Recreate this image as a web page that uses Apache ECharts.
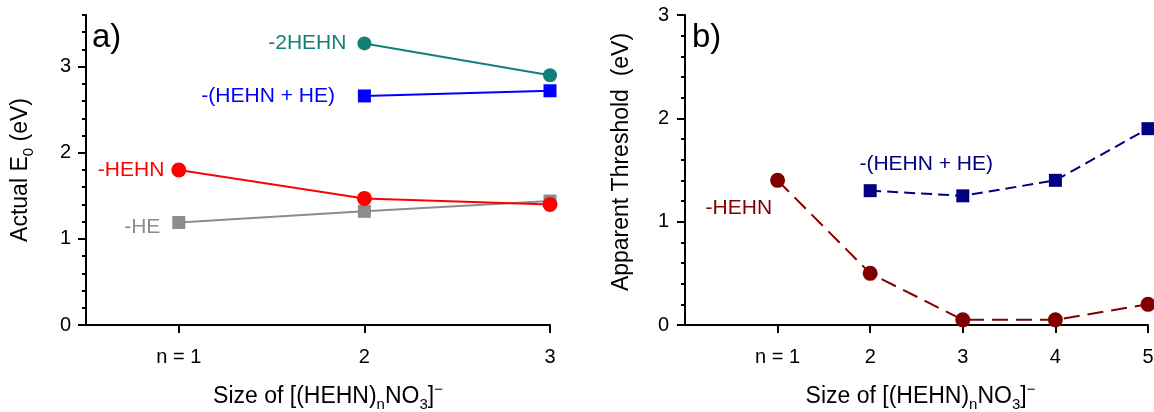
<!DOCTYPE html>
<html>
<head>
<meta charset="utf-8">
<script src="https://cdn.jsdelivr.net/npm/echarts@6/dist/echarts.min.js"></script>
<style>
  html, body { margin: 0; padding: 0; background: #fff; }
  #chart { width: 1154px; height: 412px; }
</style>
</head>
<body>
<div id="chart"></div>
<script>
// ---- Data ----
// Panel a) Actual E0 (eV) vs cluster size n
const aSizes = [1, 2, 3];
const aHE = [1.19, 1.32, 1.44];          // -HE (gray squares)
const aHEHN = [1.80, 1.47, 1.40];        // -HEHN (red circles)
const aHEHNplusHE = [null, 2.66, 2.72];  // -(HEHN + HE) (blue squares)
const a2HEHN = [null, 3.27, 2.90];       // -2HEHN (teal circles)

// Panel b) Apparent threshold (eV) vs cluster size n
const bSizes = [1, 2, 3, 4, 5];
const bHEHN = [1.40, 0.50, 0.05, 0.05, 0.20];        // -HEHN (maroon circles, dashed)
const bHEHNplusHE = [null, 1.30, 1.25, 1.40, 1.90];  // -(HEHN + HE) (navy squares, dashed)

// Tick labels
const aXTicks = [1, 2, 3];
const bXTicks = [1, 2, 3, 4, 5];
const aYTicks = [0, 1, 2, 3];
const xTickLabel = v => (v === 1 ? 'n = 1' : String(v));

const FONT = '"Liberation Sans", Arial, Helvetica, sans-serif';

function pairs(xs, ys, firstLabel) {
  const out = [];
  let first = true;
  xs.forEach((x, i) => {
    if (ys[i] == null) return;
    const item = { value: [x, ys[i]] };
    if (first && firstLabel) { item.label = firstLabel; }
    first = false;
    out.push(item);
  });
  return out;
}

function seriesLabel(text, color, extra) {
  return Object.assign({
    show: true,
    formatter: text,
    color: color,
    fontSize: 21,
    fontFamily: FONT
  }, extra);
}

const axisLineStyle = { show: true, onZero: false, lineStyle: { color: '#000', width: 2 } };

const xName = 'Size of [(HEHN){sub|n}NO{sub|3}]{sup|\u2212}';
const nameRich = {
  sub: { fontSize: 15, verticalAlign: 'bottom', lineHeight: 15, fontFamily: FONT, color: '#000' },
  sup: { fontSize: 15, verticalAlign: 'top', lineHeight: 15, fontFamily: FONT, color: '#000' }
};

function xAxisCfg(grid, min, max, ticks, padLeft) {
  return {
    type: 'value', gridIndex: grid, position: 'bottom', min: min, max: max,
    axisLine: axisLineStyle,
    axisTick: { show: true, customValues: ticks, length: 8, lineStyle: { color: '#000', width: 2 } },
    axisLabel: { show: true, customValues: ticks, formatter: xTickLabel, color: '#000', fontSize: 20, fontFamily: FONT, margin: 22 },
    splitLine: { show: false },
    name: xName,
    nameLocation: 'middle',
    nameGap: 57,
    nameTextStyle: { color: '#000', fontSize: 23, fontFamily: FONT, lineHeight: 30, rich: nameRich, padding: [0, 0, 0, padLeft] }
  };
}

const option = {
  backgroundColor: '#fff',
  animation: false,
  textStyle: { fontFamily: FONT },
  grid: [
    { left: 86, top: 15, width: 464, height: 310, outerBoundsMode: 'none', containLabel: false },
    { left: 685, top: 15, width: 463, height: 310, outerBoundsMode: 'none', containLabel: false }
  ],
  xAxis: [
    xAxisCfg(0, 0.5, 3, aXTicks, 20),
    xAxisCfg(1, 0, 5, bXTicks, 8)
  ],
  yAxis: [
    { // panel a major
      type: 'value', gridIndex: 0, position: 'left', min: 0, max: 3.6,
      axisLine: axisLineStyle,
      axisTick: { show: true, customValues: aYTicks, length: 8, lineStyle: { color: '#000', width: 2 } },
      axisLabel: { show: true, customValues: aYTicks, color: '#000', fontSize: 20, fontFamily: FONT, margin: 15 },
      splitLine: { show: false },
      name: 'Actual E{sub|0} (eV)',
      nameLocation: 'middle',
      nameGap: 50,
      nameTextStyle: { color: '#000', fontSize: 23, fontFamily: FONT, lineHeight: 30, rich: nameRich }
    },
    { // panel a minor ticks
      type: 'value', gridIndex: 0, position: 'left', offset: 0, min: 0, max: 3.6, interval: 0.2,
      axisLine: { show: false, onZero: false },
      axisTick: { show: true, length: 4, lineStyle: { color: '#000', width: 2 } },
      axisLabel: { show: false },
      splitLine: { show: false }
    },
    { // panel b
      type: 'value', gridIndex: 1, position: 'left', min: 0, max: 3, interval: 1,
      axisLine: axisLineStyle,
      axisTick: { show: true, length: 8, lineStyle: { color: '#000', width: 2 } },
      minorTick: { show: true, splitNumber: 5, length: 4, lineStyle: { color: '#000', width: 2 } },
      axisLabel: { show: true, color: '#000', fontSize: 20, fontFamily: FONT, margin: 16 },
      splitLine: { show: false },
      minorSplitLine: { show: false },
      name: 'Apparent Threshold  (eV)',
      nameLocation: 'middle',
      nameGap: 52,
      nameTextStyle: { color: '#000', fontSize: 23, fontFamily: FONT, padding: [0, 0, 0, 16] }
    }
  ],
  graphic: [
    { type: 'text', left: 92, top: 21, style: { text: 'a)', fontSize: 33, fontFamily: FONT, fill: '#000' } },
    { type: 'text', left: 692, top: 21, style: { text: 'b)', fontSize: 33, fontFamily: FONT, fill: '#000' } }
  ],
  series: [
    {
      name: '-HE', type: 'line', xAxisIndex: 0, yAxisIndex: 0,
      data: pairs(aSizes, aHE, seriesLabel('-HE', '#8c8c8c', { position: 'left', distance: 12, offset: [0, 5] })),
      symbol: 'rect', symbolSize: 13,
      lineStyle: { color: '#8c8c8c', width: 2 }, itemStyle: { color: '#8c8c8c' },
      z: 2
    },
    {
      name: '-HEHN', type: 'line', xAxisIndex: 0, yAxisIndex: 0,
      data: pairs(aSizes, aHEHN, seriesLabel('-HEHN', '#ff0000', { position: 'left', distance: 7 })),
      symbol: 'circle', symbolSize: 15,
      lineStyle: { color: '#ff0000', width: 2 }, itemStyle: { color: '#ff0000' },
      z: 3
    },
    {
      name: '-(HEHN + HE)', type: 'line', xAxisIndex: 0, yAxisIndex: 0,
      data: pairs(aSizes, aHEHNplusHE, seriesLabel('-(HEHN + HE)', '#0000ff', { position: 'left', distance: 23 })),
      symbol: 'rect', symbolSize: 13,
      lineStyle: { color: '#0000ff', width: 2 }, itemStyle: { color: '#0000ff' },
      z: 3
    },
    {
      name: '-2HEHN', type: 'line', xAxisIndex: 0, yAxisIndex: 0,
      data: pairs(aSizes, a2HEHN, seriesLabel('-2HEHN', '#128078', { position: 'left', distance: 11 })),
      symbol: 'circle', symbolSize: 14,
      lineStyle: { color: '#128078', width: 2 }, itemStyle: { color: '#128078' },
      z: 3
    },
    {
      name: 'b -HEHN', type: 'line', xAxisIndex: 1, yAxisIndex: 2,
      data: pairs(bSizes, bHEHN, seriesLabel('-HEHN', '#800000', { position: 'left', distance: 0, offset: [2, 28] })),
      symbol: 'circle', symbolSize: 15,
      lineStyle: { color: '#800000', width: 2, type: [16, 8] }, itemStyle: { color: '#800000' },
      clip: false,
      z: 3
    },
    {
      name: 'b -(HEHN + HE)', type: 'line', xAxisIndex: 1, yAxisIndex: 2,
      data: pairs(bSizes, bHEHNplusHE, seriesLabel('-(HEHN + HE)', '#000080', { position: 'inside', offset: [56, -26] })),
      symbol: 'rect', symbolSize: 13,
      lineStyle: { color: '#000080', width: 2, type: [11, 6] }, itemStyle: { color: '#000080' },
      clip: false,
      z: 3
    }
  ]
};

const chart = echarts.init(document.getElementById('chart'), null, { renderer: 'canvas' });
chart.setOption(option);
</script>
</body>
</html>
